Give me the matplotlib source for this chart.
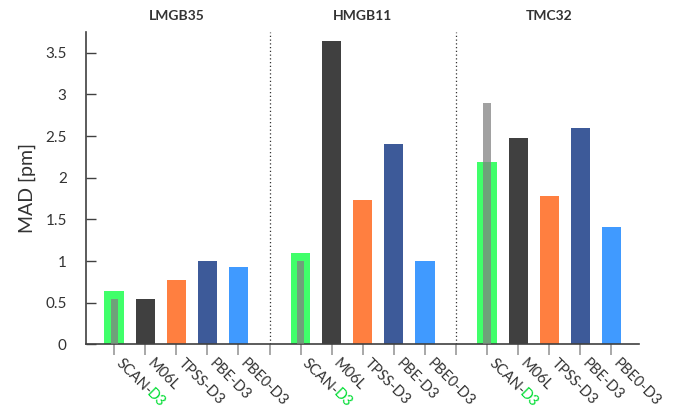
import matplotlib
matplotlib.use("Agg")
import matplotlib.pyplot as plt
import matplotlib.transforms as mtransforms
from matplotlib.font_manager import FontProperties
import numpy as np

plt.rcParams['font.family'] = ['Lato', 'DejaVu Sans']

groups = ['LMGB35', 'HMGB11', 'TMC32']
methods = ['SCAN-D3', 'M06L', 'TPSS-D3', 'PBE-D3', 'PBE0-D3']
colors = ['#40ff6a', '#404040', '#ff7f40', '#3d5a99', '#409aff']

# MAD values per group, same order as methods
mad = {
    'LMGB35': [0.64, 0.55, 0.77, 1.00, 0.93],
    'HMGB11': [1.10, 3.64, 1.73, 2.40, 1.00],
    'TMC32':  [2.19, 2.48, 1.78, 2.60, 1.41],
}
# narrow overlay bar on SCAN-D3 (other reference value)
scan_inner = [0.55, 1.00, 2.90]

fig, ax = plt.subplots(figsize=(6.73, 4.19), dpi=100)
fig.subplots_adjust(left=0.128, right=0.95, top=0.924, bottom=0.178)

step = len(methods) + 1
ticks, labels, seps = [], [], []
for g, name in enumerate(groups):
    x0 = g * step
    xs = x0 + np.arange(len(methods))
    ax.bar(xs, mad[name], width=0.62, color=colors, zorder=2)
    ax.bar(x0, scan_inner[g], width=0.23, color='#808080', alpha=0.74, zorder=3)
    ticks += list(xs)
    labels += methods
    ax.text(x0 + 2, 1.03, name, transform=ax.get_xaxis_transform(),
            ha='center', va='bottom', fontsize=10, fontweight='bold', color='#333333')
    if g < len(groups) - 1:
        seps.append(x0 + len(methods))

for s in seps:
    ax.axvline(s, color='#333333', lw=0.9, ls=(0, (1, 2)), zorder=1)

ax.set_xlim(-0.9, 16.9)
ax.set_ylim(0, 3.75)
ax.set_yticks(np.arange(0, 3.6, 0.5))
ax.set_yticklabels(['%g' % v for v in np.arange(0, 3.6, 0.5)])
ax.set_ylabel('MAD [pm]', fontsize=14, color='#333333', labelpad=7)

ax.set_xticks(ticks + seps)
ax.set_xticklabels([''] * (len(ticks) + len(seps)))
ax.tick_params(axis='x', direction='out', length=8, width=1.2, color='#999999')
ax.tick_params(axis='y', direction='in', length=7, width=1.0, color='#404040',
               labelsize=11, labelcolor='#333333', pad=14)
for t, pos in zip(ax.xaxis.get_major_ticks(), ticks + seps):
    if pos in seps:
        t.tick1line.set_color('#404040')

for side in ['top', 'right']:
    ax.spines[side].set_visible(False)
for side in ['left', 'bottom']:
    ax.spines[side].set_color('#404040')
    ax.spines[side].set_linewidth(1.2)

# rotated method labels, "D3" of SCAN-D3 in green
fs = 10.5
fig.canvas.draw()
renderer = fig.canvas.get_renderer()
prefix_w, _, _ = renderer.get_text_width_height_descent(
    'SCAN-', FontProperties(family=['Lato', 'DejaVu Sans'], size=fs), ismath=False)
prefix_pt = prefix_w * 72 / fig.dpi - 1.0
ang = np.deg2rad(-45)

off = mtransforms.ScaledTranslation(1 / 72, -14 / 72, fig.dpi_scale_trans)
trans = ax.get_xaxis_transform() + off
off2 = mtransforms.ScaledTranslation((1 + prefix_pt * np.cos(ang)) / 72,
                                     (-14 + prefix_pt * np.sin(ang)) / 72,
                                     fig.dpi_scale_trans)
trans2 = ax.get_xaxis_transform() + off2
for pos, lab in zip(ticks, labels):
    kw = dict(rotation=-45, rotation_mode='anchor', ha='left', va='baseline', fontsize=fs)
    if lab == 'SCAN-D3':
        ax.text(pos, 0, 'SCAN-', color='#333333', transform=trans, **kw)
        ax.text(pos, 0, 'D3', color='#00dd33', transform=trans2, **kw)
    else:
        ax.text(pos, 0, lab, color='#333333', transform=trans, **kw)

fig.savefig('out.png', dpi=100)
